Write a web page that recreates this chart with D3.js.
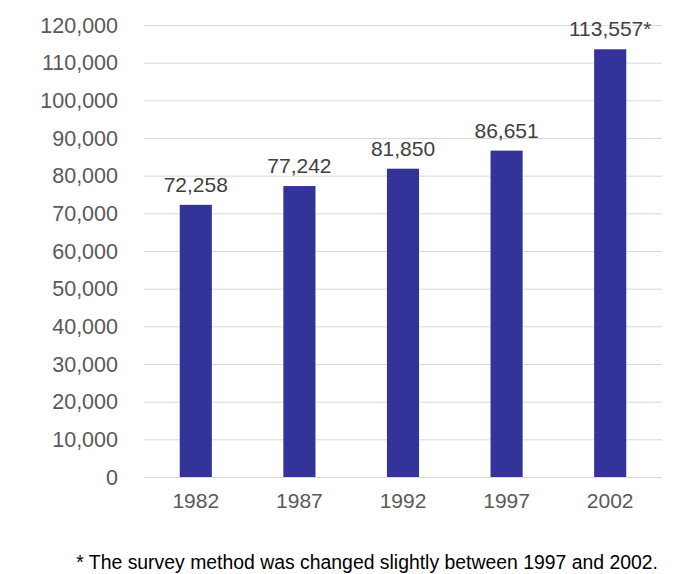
<!DOCTYPE html>
<html>
<head>
<meta charset="utf-8">
<script src="https://cdn.jsdelivr.net/npm/d3@7"></script>
<style>
  html, body { margin: 0; padding: 0; background: #fff; }
  svg { display: block; }
  text { font-family: "Liberation Sans", Arial, sans-serif; fill: #595959; }
</style>
</head>
<body>
<svg id="chart" width="674" height="574"></svg>
<script>
const years = ["1982", "1987", "1992", "1997", "2002"];
const values = [72258, 77242, 81850, 86651, 113557];
const valueLabels = ["72,258", "77,242", "81,850", "86,651", "113,557*"];
const yTicks = [0, 10000, 20000, 30000, 40000, 50000, 60000, 70000, 80000, 90000, 100000, 110000, 120000];
const footnote = "* The survey method was changed slightly between 1997 and 2002.";

const svg = d3.select("#chart");
const plotLeft = 144, plotRight = 662, plotTop = 25, plotBottom = 477;

const x = d3.scaleBand().domain(years).range([plotLeft, plotRight]).paddingInner(0.69).paddingOuter(0.345);
const y = d3.scaleLinear().domain([0, 120000]).range([plotBottom, plotTop]);

// gridlines
svg.append("g").selectAll("line").data(yTicks).join("line")
  .attr("x1", plotLeft).attr("x2", plotRight)
  .attr("y1", d => y(d) + 0.5).attr("y2", d => y(d) + 0.5)
  .attr("stroke", "#d9d9d9").attr("stroke-width", 1);

// y axis labels
const fmt = d3.format(",");
svg.append("g").selectAll("text").data(yTicks).join("text")
  .attr("x", 118).attr("y", d => y(d) + 7.5)
  .attr("text-anchor", "end")
  .attr("font-size", 21.5)
  .text(d => fmt(d));

// bars
svg.append("g").selectAll("rect").data(values).join("rect")
  .attr("x", (d, i) => x(years[i]))
  .attr("width", x.bandwidth())
  .attr("y", d => y(d))
  .attr("height", d => y(0) - y(d))
  .attr("fill", "#333399");

// value labels
svg.append("g").selectAll("text").data(values).join("text")
  .attr("x", (d, i) => x(years[i]) + x.bandwidth() / 2)
  .attr("y", d => y(d) - 13)
  .attr("text-anchor", "middle")
  .attr("font-size", 21)
  .style("fill", "#404040")
  .text((d, i) => valueLabels[i]);

// x labels
svg.append("g").selectAll("text").data(years).join("text")
  .attr("x", d => x(d) + x.bandwidth() / 2)
  .attr("y", 508)
  .attr("text-anchor", "middle")
  .attr("font-size", 21)
  .text(d => d);

// footnote
svg.append("text")
  .attr("x", 658).attr("y", 569)
  .attr("text-anchor", "end")
  .attr("font-size", 19.4)
  .style("fill", "#000")
  .text(footnote);
</script>
</body>
</html>
